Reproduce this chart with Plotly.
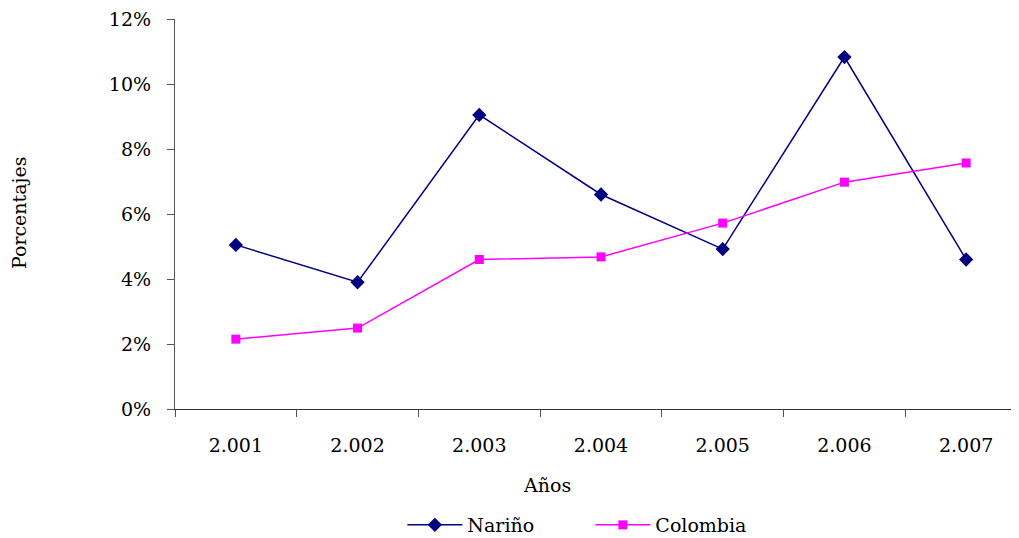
import plotly.graph_objects as go

years = ["2.001", "2.002", "2.003", "2.004", "2.005", "2.006", "2.007"]
narino = [0.0505, 0.0390, 0.0905, 0.0660, 0.0492, 0.1083, 0.0460]
colombia = [0.0215, 0.0249, 0.0460, 0.0468, 0.0572, 0.0698, 0.0757]
y_ticks = [0, 0.02, 0.04, 0.06, 0.08, 0.10, 0.12]

FONT = "DejaVu Serif"
FS = 19

fig = go.Figure()
fig.add_trace(go.Scatter(
    x=years, y=narino, name="Nariño", mode="lines+markers",
    line=dict(color="#000080", width=1.5),
    marker=dict(symbol="diamond", size=11, color="#000080"),
))
fig.add_trace(go.Scatter(
    x=years, y=colombia, name="Colombia", mode="lines+markers",
    line=dict(color="#FF00FF", width=1.5),
    marker=dict(symbol="square", size=9, color="#FF00FF"),
))

# The page body adds an 8px offset; margins compensate for it.
fig.update_layout(
    width=1019, height=538,
    margin=dict(l=167, r=0, t=11, b=137),
    paper_bgcolor="white", plot_bgcolor="white",
    font=dict(family=FONT, size=FS, color="#000000"),
    showlegend=True,
    legend=dict(orientation="h", xref="container", yref="container",
                x=0.387, xanchor="left", y=21/538, yanchor="middle",
                entrywidth=118, entrywidthmode="pixels",
                font=dict(family=FONT, size=FS), itemwidth=55),
    xaxis=dict(
        type="category", range=[-0.5, 6.5], tickson="boundaries",
        showline=True, linecolor="#333333", linewidth=1.2,
        ticks="outside", ticklen=7, tickcolor="#555555",
        showgrid=False, zeroline=False, ticklabelstandoff=19,
        ticklabeloverflow="allow",
    ),
    yaxis=dict(
        range=[0, 0.12], tickvals=y_ticks, tickformat=".0%",
        showline=True, linecolor="#555555", linewidth=1.2,
        ticks="outside", ticklen=7, tickcolor="#555555",
        showgrid=False, zeroline=False, ticklabelstandoff=12,
        ticklabeloverflow="allow",
    ),
    annotations=[
        dict(text="Años", xref="paper", yref="paper", x=0.4366,
             y=-0.195, xanchor="center", yanchor="middle",
             showarrow=False, font=dict(family=FONT, size=FS)),
        dict(text="Porcentajes", xref="paper", yref="paper", x=-0.183,
             y=0.5026, xanchor="center", yanchor="middle", textangle=-90,
             showarrow=False, font=dict(family=FONT, size=FS)),
    ],
)

fig.write_html("out.html")
